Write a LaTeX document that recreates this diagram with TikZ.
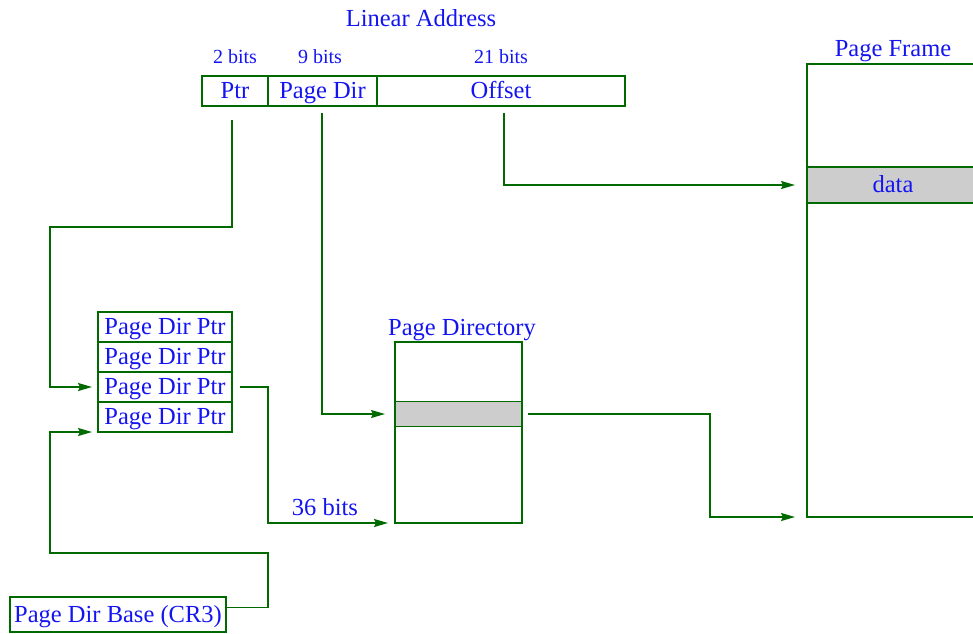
\documentclass[tikz,border=0pt]{standalone}
\usepackage{fontspec}
\setmainfont{Liberation Serif}
\usetikzlibrary{arrows.meta,calc}
\definecolor{lgreen}{RGB}{0,105,0}
\definecolor{lblue}{RGB}{20,20,240}
\definecolor{lgray}{RGB}{205,205,205}
\begin{document}
\begin{tikzpicture}[x=1pt,y=-1pt,
  cell/.style={draw=lgreen,line width=1.8pt,inner sep=0pt,outer sep=0pt,text=lblue,
    font=\fontsize{24.5}{26}\selectfont,text height=17pt,text depth=2pt},
  lbl/.style={text=lblue,inner sep=0pt,anchor=base,font=\fontsize{24.5}{26}\selectfont},
  small/.style={text=lblue,inner sep=0pt,anchor=base,font=\fontsize{20}{22}\selectfont},
  conn/.style={draw=lgreen,line width=1.8pt,-{Stealth[length=14pt,width=8pt,inset=2pt]}},
  shaded/.style={fill=lgray}]
\clip (0,0) rectangle (973,633);
% Linear address
\node[lbl] (title) at (421,26) {Linear Address};
\node[small] (b2) at (235,63) {2 bits};
\node[small] (b9) at (320,63) {9 bits};
\node[small] (b21) at (501,63) {21 bits};
\node[cell,minimum width=66pt,minimum height=30pt] (ptr) at (235,91) {Ptr};
\node[cell,minimum width=109pt,minimum height=30pt] (pdir) at (322.5,91) {Page Dir};
\node[cell,minimum width=248pt,minimum height=30pt] (off) at (501,91) {Offset};
% Page dir pointers
\node[cell,minimum width=134pt,minimum height=30pt] (pdp1) at (165,327) {Page Dir Ptr};
\node[cell,minimum width=134pt,minimum height=30pt] (pdp2) at (165,357) {Page Dir Ptr};
\node[cell,minimum width=134pt,minimum height=30pt] (pdp3) at (165,387) {Page Dir Ptr};
\node[cell,minimum width=134pt,minimum height=30pt] (pdp4) at (165,417) {Page Dir Ptr};
% CR3
\node[cell,minimum width=216pt,minimum height=35pt] (cr3) at (118,614.5) {Page Dir Base (CR3)};
% Page directory
\node[lbl] (pdlbl) at (462,335) {Page Directory};
\node[cell,minimum width=127pt,minimum height=181pt] (pd) at (458.5,432.5) {};
\node[cell,shaded,minimum width=127pt,minimum height=25pt] (pdrow) at (458.5,414) {};
% Page frame
\node[lbl] (pflbl) at (893,56) {Page Frame};
\node[cell,minimum width=172pt,minimum height=453pt] (frame) at (893,290.5) {};
\node[cell,shaded,minimum width=172pt,minimum height=36pt] (data) at (893,185) {data};
% helper coordinates
\coordinate (a1) at (50,227);
\coordinate (c2) at (268,523);
\coordinate (c3) at (268,553);
\coordinate (c4) at (50,553);
\coordinate (c5) at (710,517);
% connectors
\draw[conn,shorten <=14pt,shorten >=6pt] (ptr.south -| 232,0) |- (a1) |- (pdp3.west);
\draw[conn,shorten <=7pt,shorten >=10pt] (pdir.south -| 322,0) |- (pdrow.west);
\draw[conn,shorten <=7pt,shorten >=12pt] (off.south -| 504,0) |- (data.west);
\draw[conn,shorten <=8pt,shorten >=7pt] (pdp3.east) -| (c2) -- (pd.south west);
\node[lbl] (b36) at (325,515) {36 bits};
\draw[conn,shorten >=6pt] ($(cr3.east)+(0,-7)$) -| (c3) -- (c4) |- (pdp4.south west);
\draw[conn,shorten <=6pt,shorten >=12pt] (pdrow.east) -| (c5) -- (frame.south west);
\end{tikzpicture}
\end{document}
